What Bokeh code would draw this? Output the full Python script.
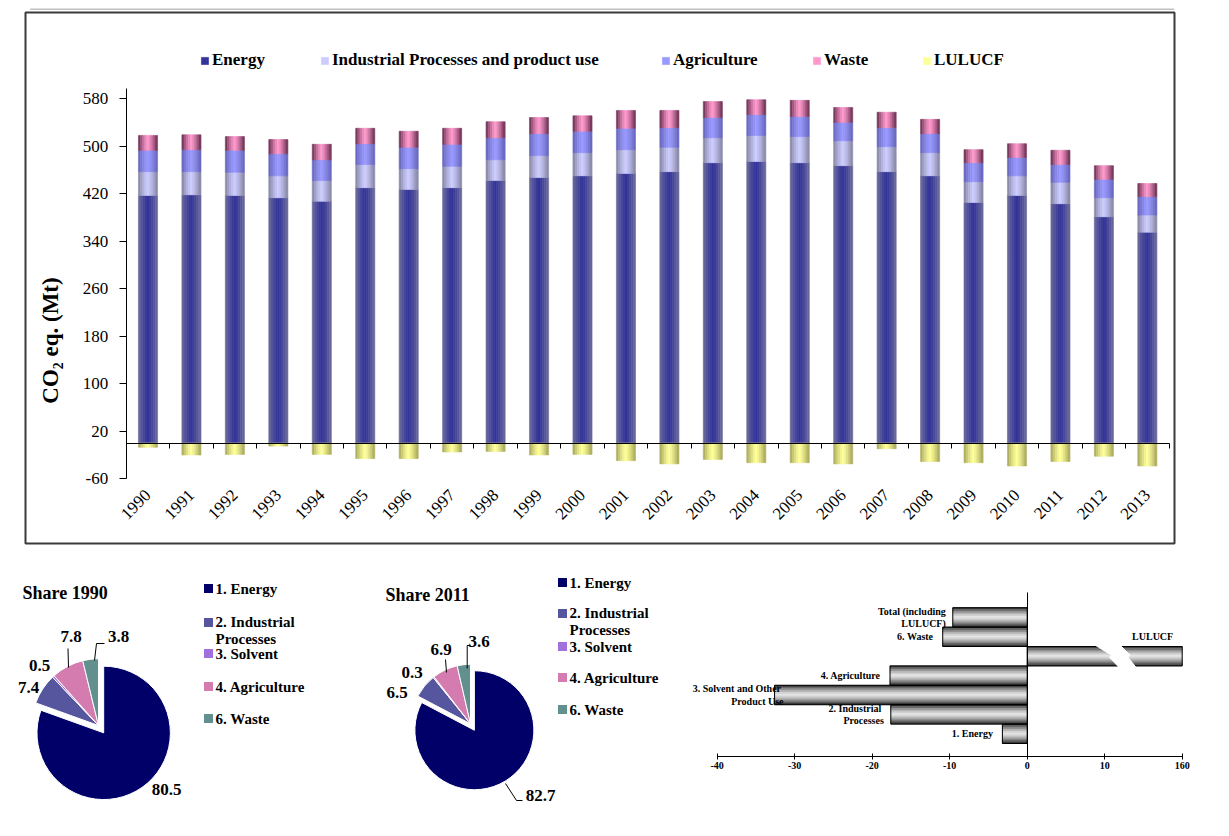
import numpy as np
from math import pi
from bokeh.plotting import figure
from bokeh.models import (Range1d, LinearAxis, FixedTicker, Legend, LegendItem,
                          CustomJSTickFormatter)
from bokeh.layouts import column, row
from bokeh.embed import file_html
from bokeh.resources import INLINE
from bokeh.core.properties import value

FONT = "Liberation Serif"

# ---------------- data ----------------
years = [str(y) for y in range(1990, 2014)]
energy = [417, 418, 417, 413, 407, 430, 427, 430, 442, 447, 450, 454,
          457, 472, 474, 472, 467, 457, 450, 405, 417, 403, 381, 355]
industrial = [40, 39, 39, 37, 35, 39, 35, 36, 35, 37, 39, 40,
              41, 42, 44, 44, 42, 42, 39, 35, 33, 36, 32, 29]
agriculture = [36, 37, 37, 37, 35, 35, 36, 37, 37, 37, 36, 36,
               33, 34, 35, 34, 31, 32, 32, 32, 31, 30, 31, 31]
waste = [25, 25, 23, 24, 26, 26, 27, 27, 27, 27, 26, 30,
         29, 27, 25, 27, 25, 26, 24, 22, 23, 24, 23, 22]
lulucf = [-7, -20, -19, -5, -19, -26, -26, -15, -14, -20, -19, -29.5,
          -35, -27.5, -33, -33, -35, -9.5, -31, -33, -38.5, -31, -22, -38.5]
series_names = ["Energy", "Industrial Processes and product use", "Agriculture", "Waste", "LULUCF"]
y_ticks = [-60, 20, 100, 180, 260, 340, 420, 500, 580]

pie_categories = ["1.  Energy", "2.  Industrial\nProcesses", "3.  Solvent", "4.  Agriculture", "6.  Waste"]
share_1990 = [80.5, 7.4, 0.5, 7.8, 3.8]
share_2011 = [82.7, 6.5, 0.3, 6.9, 3.6]

change_categories = ["1.  Energy", "2.  Industrial\nProcesses", "3.  Solvent and Other\nProduct Use",
                     "4.  Agriculture", "LULUCF", "6.  Waste", "Total (including\nLULUCF)"]
change_values = [-3.2, -17.6, -32.6, -17.7, 160, -10.9, -9.6]
change_ticks = [-40, -30, -20, -10, 0, 10, 160]


# ---------------- helpers ----------------
def hex2rgb(h):
    return tuple(int(h[i:i + 2], 16) for i in (1, 3, 5))


def mix(c1, c2, t):
    a, b = hex2rgb(c1), hex2rgb(c2)
    return "#%02x%02x%02x" % tuple(int(round(a[i] + (b[i] - a[i]) * t)) for i in range(3))


def bare(fig):
    fig.outline_line_color = None
    fig.background_fill_color = "white"
    fig.border_fill_color = "white"
    return fig


# ---------------- top grey rule ----------------
rule = figure(width=1229, height=10, x_range=Range1d(0, 1229), y_range=Range1d(10, 0),
              x_axis_type=None, y_axis_type=None, toolbar_location=None, output_backend="svg",
              min_border=0)
bare(rule)
rule.quad(left=[5], right=[1229], top=[6], bottom=[9], fill_color="#c0c0c0", line_color=None)

# ---------------- main stacked chart ----------------
W_MAIN, H_MAIN = 1229, 535
ML, MR, MT, MB = 25, 55, 2, 2
frame_w = W_MAIN - ML - MR
frame_h = H_MAIN - MT - MB
px_cat = 43.45
px_unit = 0.594
x0 = -(147.5 - 25) / px_cat
x1 = x0 + frame_w / px_cat
y1 = (442.6 - 12) / px_unit
y0 = y1 - frame_h / px_unit

p = figure(width=W_MAIN, height=H_MAIN, x_range=Range1d(x0, x1), y_range=Range1d(y0, y1),
           x_axis_type=None, y_axis_type=None, toolbar_location=None, output_backend="svg",
           min_border_left=ML, min_border_right=MR, min_border_top=MT, min_border_bottom=MB)
p.outline_line_color = "#3a3a3a"
p.outline_line_width = 2
p.background_fill_color = "white"

idx = np.arange(len(years))
stack = np.vstack([energy, industrial, agriculture, waste]).astype(float)
tops = np.cumsum(stack, axis=0)
bottoms = tops - stack
lul = np.array(lulucf, dtype=float)

centers = ["#333399", "#ccccff", "#9999ff", "#ff99cc", "#ffff99"]
edges = ["#66669c", "#8c8cac", "#6a6ac2", "#7a3a5e", "#b0b062"]
N = 9
bw = 0.44
series_renderers = []
for s in range(5):
    if s < 4:
        b, t = bottoms[s], tops[s]
    else:
        b, t = np.minimum(lul, 0), np.maximum(lul, 0)
    rs = []
    for k in range(N):
        off = (k - (N - 1) / 2) * bw / N
        tt = abs(k - (N - 1) / 2) / ((N - 1) / 2)
        c = mix(centers[s], edges[s], tt ** 1.3)
        r = p.vbar(x=idx + off, width=bw / N, bottom=b, top=t,
                   fill_color=c, line_color=c, line_width=0.6)
        rs.append(r)
    series_renderers.append(rs)

# y axis at left edge of category area
yax = LinearAxis(fixed_location=-0.5, bounds=(-60, 597), ticker=FixedTicker(ticks=y_ticks),
                 major_label_overrides={t: str(t) for t in y_ticks},
                 major_tick_out=7, major_tick_in=0, minor_tick_out=0, minor_tick_in=0,
                 major_label_text_font=FONT, major_label_text_font_size="17px",
                 major_label_text_color="black", major_label_standoff=11,
                 axis_line_color="black", major_tick_line_color="black")
p.add_layout(yax, "left")

# zero axis with category-boundary ticks
bounds_ticks = [float(v) for v in (np.arange(len(years) + 1) - 0.5)]
xax0 = LinearAxis(fixed_location=0, bounds=(-0.5, len(years) - 0.5), ticker=FixedTicker(ticks=bounds_ticks),
                  major_tick_out=5, major_tick_in=0, minor_tick_out=0, minor_tick_in=0,
                  formatter=CustomJSTickFormatter(code="return ''"),
                  axis_line_color="black", major_tick_line_color="black")
p.add_layout(xax0, "below")

# year labels
xlab = LinearAxis(fixed_location=-73, ticker=FixedTicker(ticks=[int(i) for i in idx]),
                  major_label_overrides={int(i): years[i] for i in idx},
                  axis_line_color=None, major_tick_line_color=None, minor_tick_line_color=None,
                  major_label_orientation=pi / 4, major_label_standoff=0,
                  major_label_text_font=FONT, major_label_text_font_size="17px",
                  major_label_text_color="black")
p.add_layout(xlab, "below")

p.text(x=[(50 - 147.5) / px_cat], y=[(442.6 - 340) / px_unit], text=["CO\u2082 eq. (Mt)"],
       angle=pi / 2, text_align="center", text_baseline="middle",
       text_font=value(FONT), text_font_style="bold", text_font_size="23px", text_color="black")

leg_x = [200, 320, 661, 812, 922]
for s in range(5):
    lg = Legend(items=[LegendItem(label=series_names[s], renderers=[series_renderers[s][N // 2]])],
                location=(leg_x[s] - ML, frame_h - 48 - 10), orientation="horizontal",
                glyph_width=9, glyph_height=9, label_standoff=3, padding=0, margin=0,
                label_height=20, border_line_color=None, background_fill_alpha=0,
                label_text_font=FONT, label_text_font_style="bold", label_text_font_size="17px",
                label_text_color="black")
    p.add_layout(lg)

# ---------------- pies ----------------
pie_colors = ["#000068", "#56569e", "#a070dc", "#d47cb0", "#62908e"]


def pie_figure(xs, width, share, center, radius, explode, title, title_pos,
               label_pos, leader_lines, legend_x, legend_y):
    f = figure(width=width, height=291, x_range=Range1d(xs, xs + width), y_range=Range1d(-836, -545),
               x_axis_type=None, y_axis_type=None, toolbar_location=None, output_backend="svg",
               min_border=0)
    bare(f)
    vals = np.array(share, dtype=float)
    cum = np.concatenate([[0], np.cumsum(vals)]) / vals.sum()
    start = pi / 2 - 2 * pi * cum[:-1]
    end = pi / 2 - 2 * pi * cum[1:]
    mid = (start + end) / 2
    ex = np.array([explode, 0, 0, 0, 0])
    cx = center[0] + ex * np.cos(mid)
    cy = -center[1] + ex * np.sin(mid)
    f.wedge(x=cx, y=cy, radius=radius, start_angle=start, end_angle=end, direction="clock",
            fill_color=pie_colors, line_color="white", line_width=1)
    for pts in leader_lines:
        f.line(x=[q[0] for q in pts], y=[-q[1] for q in pts], line_color="black", line_width=1)
    f.text(x=[q[0] for q in label_pos], y=[-q[1] for q in label_pos],
           text=[("%.1f" % v) for v in share], text_align="center", text_baseline="middle",
           text_font=value(FONT), text_font_style="bold", text_font_size="17px", text_color="black")
    f.text(x=[title_pos[0]], y=[-title_pos[1]], text=[title], text_align="left", text_baseline="middle",
           text_font=value(FONT), text_font_style="bold", text_font_size="18px", text_color="black")
    f.rect(x=[legend_x + 5] * 5, y=[-v for v in legend_y], width=9, height=9,
           fill_color=pie_colors, line_color=None)
    ty = []
    for i, v in enumerate(legend_y):
        ty.append(-(v + 8) if "\n" in pie_categories[i] else -v)
    f.text(x=[legend_x + 12] * 5, y=ty, text=pie_categories, text_align="left", text_baseline="middle",
           text_font=value(FONT), text_font_style="bold", text_font_size="15px", text_color="black",
           text_line_height=1.05)
    return f


pie1 = pie_figure(0, 370, share_1990, (98, 725), 66.7, 9, "Share 1990", (22, 592),
                  [(166, 789), (28, 687), (39, 664.5), (70.7, 636), (118, 636)],
                  [[(67.5, 648), (68, 667)], [(104, 643), (96, 643), (94, 660)]],
                  203, [588, 622, 653, 686, 718])
pie2 = pie_figure(370, 320, share_2011, (470, 723.3), 59.5, 7.5, "Share 2011", (385, 594),
                  [(540, 794.5), (396.7, 691.5), (411.7, 671.5), (440.5, 649), (478.7, 641)],
                  [[(445, 659), (446, 672)], [(470, 645), (466.7, 645), (466.7, 668)],
                   [(505, 783), (516, 800), (522, 800)]],
                  557, [582, 613, 646, 677, 709])


# ---------------- change chart (broken axis) ----------------
def brk(v):
    return v if v <= 10 else 10 + (v - 10) * 10.0 / 150.0


disp = np.array([brk(v) for v in change_values])
px_c = 7.75
cx0 = -40 - (716.7 - 690) / px_c
cx1 = cx0 + 539 / px_c
px_row = 19.4
row0_page = 733.3
cy0 = -(836 - row0_page) / px_row
cy1 = (row0_page - 545) / px_row
axis_y = -(755.7 - row0_page) / px_row
axis_top = (row0_page - 592) / px_row

hb = figure(width=539, height=291, x_range=Range1d(cx0, cx1), y_range=Range1d(cy0, cy1),
            x_axis_type=None, y_axis_type=None, toolbar_location=None, output_backend="svg",
            min_border=0)
bare(hb)
ypos = np.arange(len(change_values))
left = np.minimum(disp, 0)
right = np.maximum(disp, 0)
NH = 11
for k in range(NH):
    off = (k - (NH - 1) / 2) / NH
    tt = abs(k - (NH - 1) / 2) / ((NH - 1) / 2)
    c = mix("#e4e4e4", "#3a3a3a", tt ** 1.4)
    hb.hbar(y=ypos - off, height=1.0 / NH, left=left, right=right, fill_color=c, line_color=c, line_width=0.5)
hb.hbar(y=ypos, height=1.0, left=left, right=right, fill_color=None, line_color="black", line_width=1)
# axis break on the LULUCF bar
hb.patch(x=[8.8, 12.0, 13.3, 13.0, 14.0, 11.8, 10.6, 10.9],
         y=[4.56, 4.56, 4.05, 3.95, 3.44, 3.44, 3.95, 4.05], fill_color="white", line_color="white")
vax = LinearAxis(fixed_location=0, bounds=(axis_y, axis_top), ticker=FixedTicker(ticks=[]),
                 major_tick_line_color=None, minor_tick_line_color=None,
                 axis_line_color="black", axis_line_width=1)
hb.add_layout(vax, "left")
tick_disp = [brk(t) for t in change_ticks]
hax = LinearAxis(fixed_location=axis_y, bounds=(-40, brk(160)), ticker=FixedTicker(ticks=tick_disp),
                 major_label_overrides={(int(d) if float(d).is_integer() else d): str(t)
                                        for d, t in zip(tick_disp, change_ticks)},
                 major_tick_in=3, major_tick_out=3, minor_tick_out=0, minor_tick_in=0,
                 major_label_text_font=FONT, major_label_text_font_style="bold",
                 major_label_text_font_size="10px", major_label_text_color="black",
                 major_label_standoff=3, axis_line_color="black", major_tick_line_color="black")
hb.add_layout(hax, "below")
label_dx = [-7, -7, 9, -7, -9, -7, -7]
label_dy = [0, 0, 0, 0, -20, 0, 0]
hb.text(x=disp, y=ypos, text=change_categories, x_offset=label_dx, y_offset=label_dy,
        text_align="right", text_baseline="middle", text_font=value(FONT), text_font_style="bold",
        text_font_size="10px", text_color="black", text_line_height=1.1)

layout = column(rule, p, row(pie1, pie2, hb))
open("out.html", "w").write(file_html(layout, INLINE))
